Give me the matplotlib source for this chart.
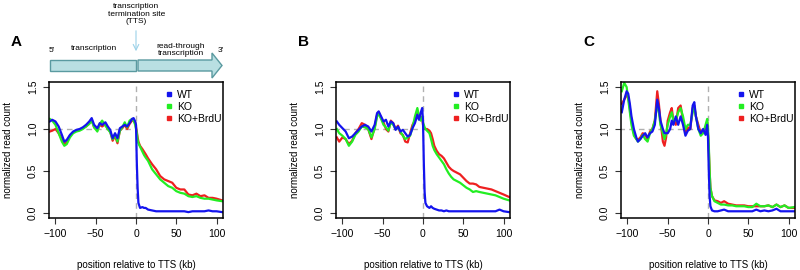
import matplotlib.pyplot as plt
from matplotlib.lines import Line2D
from matplotlib.patches import FancyArrow, Rectangle

plt.rcParams['font.family'] = ['Liberation Sans', 'DejaVu Sans']

# positions relatives au TTS (kb) et valeurs
pos_a = [-107, -104, -100, -96, -92, -89, -86, -82, -78, -74, -70, -66, -62, -58, -55, -52, -48, -45, -42,
         -38, -35, -32, -29, -26, -23, -20, -17, -14, -11, -8, -5, -3, -1, 0,
         1, 2, 3, 5, 8, 10, 12, 15, 20, 25, 30, 35, 40, 45, 50, 55, 60, 65, 70, 75, 80, 85, 90, 95, 100, 107]
wt_a = [1.09, 1.11, 1.09, 1.03, 0.93, 0.85, 0.87, 0.93, 0.97, 0.99, 1.0, 1.02, 1.05, 1.09, 1.13, 1.05, 1.01,
        1.07, 1.05, 1.08, 1.03, 0.99, 0.89, 0.95, 0.89, 1.01, 1.03, 1.05, 1.03, 1.07, 1.12, 1.13, 1.09, 1.05,
        0.6, 0.3, 0.12, 0.06, 0.07, 0.06, 0.06, 0.04, 0.03, 0.02, 0.02, 0.02, 0.02, 0.02, 0.02, 0.02, 0.02,
        0.01, 0.02, 0.02, 0.02, 0.02, 0.03, 0.02, 0.02, 0.01]
ko_a = [1.12, 1.10, 1.05, 0.95, 0.85, 0.80, 0.82, 0.90, 0.95, 0.97, 0.98, 1.0, 1.03, 1.06, 1.10, 1.02, 0.97,
        1.06, 1.10, 1.04, 1.0, 0.96, 0.88, 0.93, 0.85, 0.98, 1.02, 1.08, 1.02, 1.10, 1.12, 1.10, 1.05, 1.0,
        0.95, 0.87, 0.83, 0.79, 0.73, 0.69, 0.66, 0.62, 0.52, 0.46, 0.40, 0.36, 0.32, 0.30, 0.26, 0.24, 0.23,
        0.20, 0.19, 0.20, 0.18, 0.17, 0.17, 0.16, 0.15, 0.14]
brdu_a = [0.97, 0.98, 1.0, 0.95, 0.88, 0.82, 0.84, 0.92, 0.96, 0.98, 0.99, 1.01, 1.03, 1.07, 1.11, 1.02, 0.99,
          1.05, 1.03, 1.06, 1.0, 0.97, 0.86, 0.92, 0.83, 0.98, 1.01, 1.05, 1.0, 1.06, 1.10, 1.10, 1.08, 1.02,
          0.97, 0.90, 0.85, 0.80, 0.76, 0.73, 0.70, 0.65, 0.58, 0.52, 0.44, 0.40, 0.38, 0.36, 0.30, 0.28, 0.28,
          0.22, 0.21, 0.23, 0.20, 0.21, 0.18, 0.18, 0.17, 0.15]

pos_b = [-107, -104, -100, -96, -92, -88, -84, -80, -76, -72, -68, -64, -60, -57, -55, -52, -49, -46, -43,
         -40, -37, -34, -31, -28, -25, -22, -19, -16, -13, -10, -7, -5, -3, -1, 0,
         1, 2, 3, 5, 8, 10, 12, 14, 17, 20, 23, 26, 29, 32, 35, 38, 42, 46, 50, 54, 58, 62, 66, 70, 75, 80, 85,
         90, 95, 100, 107]
wt_b = [1.09, 1.05, 1.01, 0.97, 0.89, 0.91, 0.95, 0.99, 1.03, 1.05, 1.03, 0.97, 1.05, 1.19, 1.21, 1.15, 1.09,
        1.11, 1.03, 1.09, 1.07, 0.99, 1.03, 0.97, 0.99, 0.95, 0.91, 0.93, 1.01, 1.07, 1.17, 1.11, 1.19, 1.25, 1.1,
        0.6, 0.25, 0.12, 0.08, 0.06, 0.08, 0.06, 0.05, 0.04, 0.03, 0.03, 0.02, 0.03, 0.02, 0.02, 0.02, 0.02,
        0.02, 0.02, 0.02, 0.02, 0.02, 0.02, 0.02, 0.02, 0.02, 0.02, 0.02, 0.04, 0.02, 0.01]
ko_b = [1.0, 0.95, 0.92, 0.88, 0.8, 0.85, 0.93, 0.97, 1.03, 1.02, 1.0, 0.9, 1.0, 1.15, 1.18, 1.12, 1.05, 1.02,
        0.98, 1.08, 1.05, 1.0, 1.02, 0.97, 0.92, 0.88, 0.9, 0.92, 1.02, 1.15, 1.25, 1.15, 1.1, 1.15, 1.08,
        1.05, 1.02, 1.0, 0.98, 0.95, 0.88, 0.8, 0.75, 0.7, 0.66, 0.62, 0.58, 0.52, 0.47, 0.43, 0.4, 0.38, 0.36,
        0.33, 0.3, 0.28, 0.25, 0.26, 0.25, 0.24, 0.23, 0.22, 0.21, 0.19, 0.17, 0.15]
brdu_b = [0.9, 0.85, 0.9, 0.88, 0.82, 0.86, 0.95, 1.0, 1.07, 1.05, 1.0, 0.88, 1.02, 1.17, 1.2, 1.13, 1.08, 1.0,
          0.97, 1.1, 1.07, 1.0, 1.04, 0.95, 0.93, 0.85, 0.84, 0.95, 1.05, 1.1, 1.22, 1.12, 1.15, 1.12, 1.05,
          1.03, 1.0, 1.0, 1.0, 0.98, 0.95, 0.88, 0.8, 0.74, 0.7, 0.68, 0.65, 0.6, 0.55, 0.52, 0.5, 0.48, 0.46,
          0.42, 0.38, 0.35, 0.35, 0.34, 0.31, 0.3, 0.29, 0.28, 0.26, 0.24, 0.22, 0.19]

pos_c = [-107, -104, -101, -99, -97, -95, -92, -89, -87, -84, -81, -78, -75, -72, -69, -66, -63, -61, -59,
         -56, -54, -52, -50, -47, -45, -43, -40, -37, -34, -31, -28, -25, -22, -19, -17, -15, -12, -9, -6, -3,
         -1, 0,
         1, 2, 3, 5, 8, 12, 16, 20, 25, 30, 35, 40, 45, 50, 55, 60, 65, 70, 75, 80, 85, 90, 95, 100, 107]
wt_c = [1.2, 1.35, 1.45, 1.42, 1.3, 1.15, 1.0, 0.9, 0.85, 0.88, 0.92, 0.95, 0.9, 0.95, 0.97, 1.05, 1.35, 1.25,
        1.1, 1.0, 0.95, 0.95, 0.95, 1.0, 1.1, 1.05, 1.15, 1.05, 1.15, 1.05, 0.92, 0.98, 1.0, 1.28, 1.32, 1.15,
        1.0, 0.95, 1.0, 0.93, 1.05, 0.9,
        0.5, 0.2, 0.08, 0.03, 0.02, 0.02, 0.03, 0.04, 0.02, 0.02, 0.02, 0.02, 0.02, 0.02, 0.02, 0.04, 0.02,
        0.03, 0.02, 0.03, 0.05, 0.02, 0.02, 0.02, 0.02]
ko_c = [1.45, 1.55, 1.5, 1.35, 1.2, 1.05, 0.92, 0.88, 0.85, 0.88, 0.93, 0.88, 0.85, 0.95, 1.0, 1.1, 1.3, 1.2,
        1.05, 0.95, 0.88, 0.95, 1.05, 1.15, 1.2, 1.1, 1.1, 1.2, 1.25, 1.15, 1.0, 1.05, 1.05, 1.2, 1.25, 1.15,
        1.0, 0.92, 0.95, 1.05, 1.12, 1.0,
        0.8, 0.5, 0.3, 0.2, 0.14, 0.12, 0.1, 0.1, 0.09, 0.09, 0.08, 0.08, 0.08, 0.07, 0.07, 0.11, 0.08, 0.08,
        0.09, 0.07, 0.1, 0.07, 0.09, 0.06, 0.07]
brdu_c = [1.3, 1.35, 1.4, 1.38, 1.25, 1.1, 0.95, 0.88, 0.87, 0.9, 0.95, 0.93, 0.88, 0.97, 1.0, 1.1, 1.45, 1.3,
          1.1, 0.85, 0.8, 0.9, 1.1, 1.2, 1.25, 1.1, 1.05, 1.25, 1.28, 1.1, 0.95, 1.02, 1.0, 1.25, 1.28, 1.15,
          1.05, 0.95, 0.98, 1.0, 1.08, 0.95,
          0.75, 0.5, 0.3, 0.2, 0.15, 0.14, 0.12, 0.14, 0.11, 0.1, 0.09, 0.09, 0.09, 0.08, 0.08, 0.08, 0.08, 0.08,
          0.09, 0.07, 0.1, 0.07, 0.09, 0.06, 0.06]

labels = ['WT', 'KO', 'KO+BrdU']
colors = ['#1414ee', '#22ee22', '#ee2020']
panel_letters = ['A', 'B', 'C']
x_ticks = [-100, -50, 0, 50, 100]
y_ticks = [0.0, 0.5, 1.0, 1.5]

panels = [(pos_a, wt_a, ko_a, brdu_a), (pos_b, wt_b, ko_b, brdu_b), (pos_c, wt_c, ko_c, brdu_c)]
lefts = [49, 336, 621]

fig = plt.figure(figsize=(8, 2.7), dpi=100)

for left, letter, (pos, wt, ko, brdu) in zip(lefts, panel_letters, panels):
    ax = fig.add_axes([left / 800, 1 - 218 / 270, 174 / 800, 136 / 270])
    ax.axvline(0, color='#b0b0b0', linestyle=(0, (4, 3)), lw=1)
    ax.plot([-110, 0], [1, 1], color='#b0b0b0', linestyle=(0, (4, 3)), lw=1)
    for series, color in zip([brdu, ko, wt], colors[::-1]):
        ax.plot(pos, series, color=color, lw=1.6, solid_joinstyle='round')
    ax.set_xlim(-108, 108)
    ax.set_ylim(-0.06, 1.56)
    ax.set_xticks(x_ticks)
    ax.set_yticks(y_ticks)
    ax.set_yticklabels([f'{v:.1f}' for v in y_ticks], rotation=90, va='center')
    ax.tick_params(labelsize=7.5, length=4, width=0.8, color='#333333', pad=4)
    for spine in ax.spines.values():
        spine.set_linewidth(1.1)
    ax.set_xlabel('position relative to TTS (kb)', fontsize=7, labelpad=15)
    ax.set_ylabel('normalized read count', fontsize=7, labelpad=11)
    handles = [Line2D([], [], marker='s', ls='none', color=c, markersize=3.5) for c in colors]
    ax.legend(handles, labels, loc='upper left', bbox_to_anchor=(0.63, 0.99), frameon=False, fontsize=7.5,
              handlelength=0.8, handletextpad=0.4, labelspacing=0.2, borderaxespad=0.2)
    fig.text((left - 38) / 800, 1 - 42 / 270, letter, fontsize=11, fontweight='bold', va='center')

# schéma de transcription au-dessus du panneau A (coordonnées en pixels)
top = fig.add_axes([0, 0, 1, 1], zorder=-1)
top.set_xlim(0, 800)
top.set_ylim(270, 0)
top.axis('off')
top.add_patch(Rectangle((50, 60), 86, 11, facecolor='#b9dfe2', edgecolor='#5a9aa0', lw=1))
top.add_patch(FancyArrow(138, 65.5, 84, 0, width=11, head_width=25, head_length=10,
                         length_includes_head=True, facecolor='#b9dfe2', edgecolor='#5a9aa0', lw=1))
top.annotate('', xy=(136, 54), xytext=(136, 28),
             arrowprops=dict(arrowstyle='->', color='#9cd2e8', lw=0.8))
top.text(136.5, 14, 'transcription\ntermination site\n(TTS)', fontsize=6, ha='center', va='center',
         linespacing=1.1)
top.text(94, 48, 'transcription', fontsize=6, ha='center', va='center')
top.text(181, 50, 'read-through\ntranscription', fontsize=6, ha='center', va='center', linespacing=1.1)
top.text(52, 50, "5'", fontsize=6, ha='center', va='center')
top.text(221, 50, "3'", fontsize=6, ha='center', va='center')

fig.savefig('out.png', dpi=100)
